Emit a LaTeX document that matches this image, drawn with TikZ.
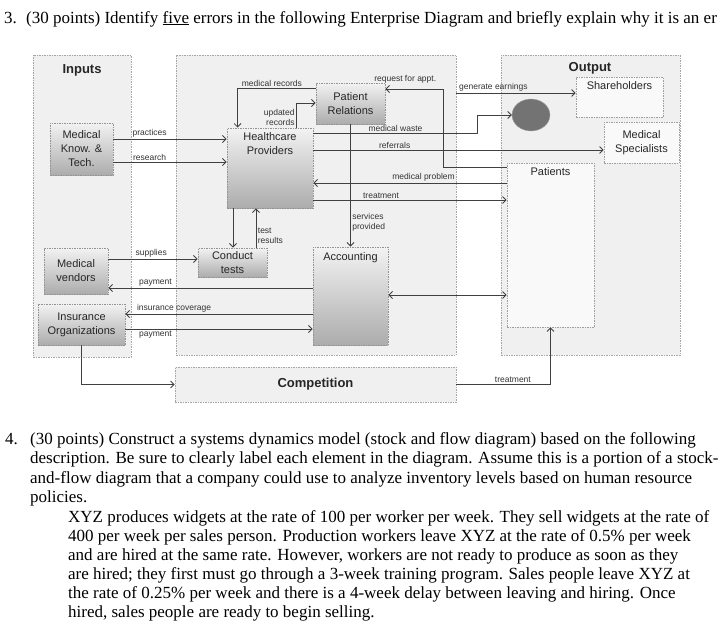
\documentclass[tikz,border=0pt]{standalone}
\usepackage{fontspec}
\setmainfont{Liberation Serif}
\newfontfamily\diafont{Liberation Sans}
\usetikzlibrary{arrows.meta,shapes.geometric}

\tikzset{
  group/.style={draw=gray!70, dash pattern=on 1.5pt off 1pt, line width=0.8pt, fill=gray!12, inner sep=0pt},
  unit/.style={draw=gray!85, dash pattern=on 1.5pt off 1pt, line width=0.9pt, top color=gray!10, bottom color=gray!65,
    inner sep=0pt, font=\diafont\fontsize{11}{14}\selectfont, text=black!85, align=center},
  sink/.style={draw=gray!75, dash pattern=on 1.5pt off 1pt, line width=0.8pt, fill=gray!5, inner sep=0pt,
    font=\diafont\fontsize{11}{14}\selectfont, text=black!85, align=center},
  head/.style={font=\diafont\bfseries\fontsize{13}{15}\selectfont, text=black!85},
  utext/.style={font=\diafont\fontsize{11}{14}\selectfont, text=black!85, align=center, inner sep=0pt},
  lbl/.style={font=\diafont\fontsize{8.5}{10}\selectfont, text=black!80, inner sep=1.5pt},
  flow/.style={draw=black!75, line width=0.8pt, ->},
  >={Straight Barb[length=3.5pt,width=7pt]},
  prose/.style={anchor=base west, inner sep=0pt, font=\fontsize{17}{20}\selectfont},
}

\begin{document}
\begin{tikzpicture}[x=1pt,y=-1pt]
	\useasboundingbox[fill=white] (0,0) rectangle (720,640);
	
	%%%%% QUESTION 3 %%%%%
	\node[prose] (q3) at (4,23) {\makebox[22pt][l]{3.}(30 points) Identify \underline{five} errors in the following Enterprise Diagram and briefly explain why it is an er};
	
	% groups
	\node[group, minimum width=98pt, minimum height=302pt] (inputs) at (82,206) {};
	\node[group, minimum width=280pt, minimum height=300pt] (core) at (316,205) {};
	\node[group, minimum width=179pt, minimum height=300pt] (output) at (590.5,205) {};
	\node[group, head, minimum width=281pt, minimum height=35pt] (competition) at (315.5,384.5) {Competition};
	\node[head] (inputs-t) at (82,70) {Inputs};
	\node[head] (output-t) at (590,68) {Output};
	
	% inputs
	\node[unit, minimum width=63pt, minimum height=52pt] (medknow) at (81.5,149) {Medical\\Know. \&\\Tech.};
	\node[unit, minimum width=64pt, minimum height=46pt] (vendors) at (76,271) {Medical\\vendors};
	\node[unit, minimum width=87pt, minimum height=41pt] (insurance) at (81.5,324.5) {Insurance\\Organizations};
	
	% enterprise
	\node[unit, minimum width=86pt, minimum height=80pt,
		label={[utext,anchor=north,yshift=-5pt]north:{Healthcare\\Providers}}] (hcp) at (270,168) {};
	\node[unit, minimum width=69pt, minimum height=41pt] (patrel) at (350.5,103.5) {Patient\\Relations};
	\node[unit, minimum width=69pt, minimum height=29pt] (tests) at (232.5,262.5) {Conduct\\tests};
	\node[unit, minimum width=75pt, minimum height=98pt,
		label={[utext,anchor=north,yshift=-6pt]north:Accounting}] (accounting) at (350.5,296) {};
	
	% output
	\node[sink, minimum width=87pt, minimum height=40pt,
		label={[utext,anchor=north,yshift=-5pt]north:Shareholders}] (shareholders) at (619.5,97) {};
	\node[sink, minimum width=75pt, minimum height=41pt] (specialists) at (641.5,142.5) {Medical\\Specialists};
	\node[sink, minimum width=87pt, minimum height=164pt,
		label={[utext,anchor=north,yshift=-5pt]north:Patients}] (patients) at (550.5,245) {};
	\node[ellipse, draw=gray!70, fill=black!55, minimum width=38pt, minimum height=32pt, inner sep=0pt] (dot) at (531,115) {};
	
	% flows
	\draw[flow] (medknow.east |- 0,139) -- node[lbl,above,pos=0.32] {practices} (hcp.west |- 0,139);
	\draw[flow] (medknow.east |- 0,162) -- node[lbl,above,pos=0.32] {research} (hcp.west |- 0,162);
	\draw[flow] (patrel.west |- 0,88) -| node[lbl,above,pos=0.28] {medical records} ([xshift=11pt]hcp.north west);
	\draw[flow] ([xshift=-17pt]hcp.north east) |- node[lbl,align=right,anchor=south east,pos=0] {updated\\records} (patrel.west |- 0,103);
	\draw[flow] (patients.west |- 0,167) -- ++(-63,0) |- node[lbl,above=4pt,pos=0.83] {request for appt.} (patrel.east |- 0,89);
	\draw[flow] (core.east |- 0,93) -- node[lbl,above,pos=0.31] {generate earnings} (shareholders.west |- 0,93);
	\draw[flow] (hcp.east |- 0,133) -- node[lbl,above,pos=0.5] {medical waste} ++(164,0) |- (dot.west);
	\draw[flow] (hcp.east |- 0,150) -- node[lbl,above,pos=0.28] {referrals} (specialists.west |- 0,150);
	\draw[flow] (patients.west |- 0,183) -- node[lbl,above,pos=0.43] {medical problem} (hcp.east |- 0,183);
	\draw[flow] (hcp.east |- 0,200) -- node[lbl,above,pos=0.35] {treatment} (patients.west |- 0,200);
	\draw[flow] (patrel.south) -- node[lbl,right,align=left,pos=0.8] {services\\provided} (accounting.north);
	\draw[flow] (hcp.south -| 233,0) -- (tests.north -| 233,0);
	\draw[flow] (tests.north -| 256,0) -- node[lbl,right,align=left,pos=0.3] {test\\results} (hcp.south -| 256,0);
	\draw[flow] (vendors.east |- 0,259) -- node[lbl,above,pos=0.48] {supplies} (tests.west |- 0,259);
	\draw[flow] (accounting.west |- 0,288) -- node[lbl,above,pos=0.77] {payment} (vendors.east |- 0,288);
	\draw[flow] (accounting.west |- 0,314) -- node[lbl,above,pos=0.74] {insurance coverage} (insurance.east |- 0,314);
	\draw[flow] (insurance.east |- 0,329) -- node[lbl,below,pos=0.16] {payment} (accounting.west |- 0,329);
	\draw[flow,<->] (accounting.east |- 0,295) -- (patients.west |- 0,295);
	\draw[flow] (insurance.south) |- (competition.west);
	\draw[flow] (competition.east) -| node[lbl,above,pos=0.3] {treatment} (patients.south);
	
	%%%%% QUESTION 4 %%%%%
	\node[prose] (q4a) at (5,444) {\makebox[25pt][l]{4.}(30 points) Construct a systems dynamics model (stock and flow diagram) based on the following};
	\node[prose] (q4b) at (30,463.5) {description. Be sure to clearly label each element in the diagram. Assume this is a portion of a stock-};
	\node[prose] (q4c) at (30,483) {and-flow diagram that a company could use to analyze inventory levels based on human resource};
	\node[prose] (q4d) at (30,502.5) {policies.};
	\node[prose] (xyz1) at (68,522) {XYZ produces widgets at the rate of 100 per worker per week. They sell widgets at the rate of};
	\node[prose] (xyz2) at (68,541) {400 per week per sales person. Production workers leave XYZ at the rate of 0.5\% per week};
	\node[prose] (xyz3) at (68,560) {and are hired at the same rate. However, workers are not ready to produce as soon as they};
	\node[prose] (xyz4) at (68,579) {are hired; they first must go through a 3-week training program. Sales people leave XYZ at};
	\node[prose] (xyz5) at (68,598) {the rate of 0.25\% per week and there is a 4-week delay between leaving and hiring. Once};
	\node[prose] (xyz6) at (68,617) {hired, sales people are ready to begin selling.};
\end{tikzpicture}
\end{document}
